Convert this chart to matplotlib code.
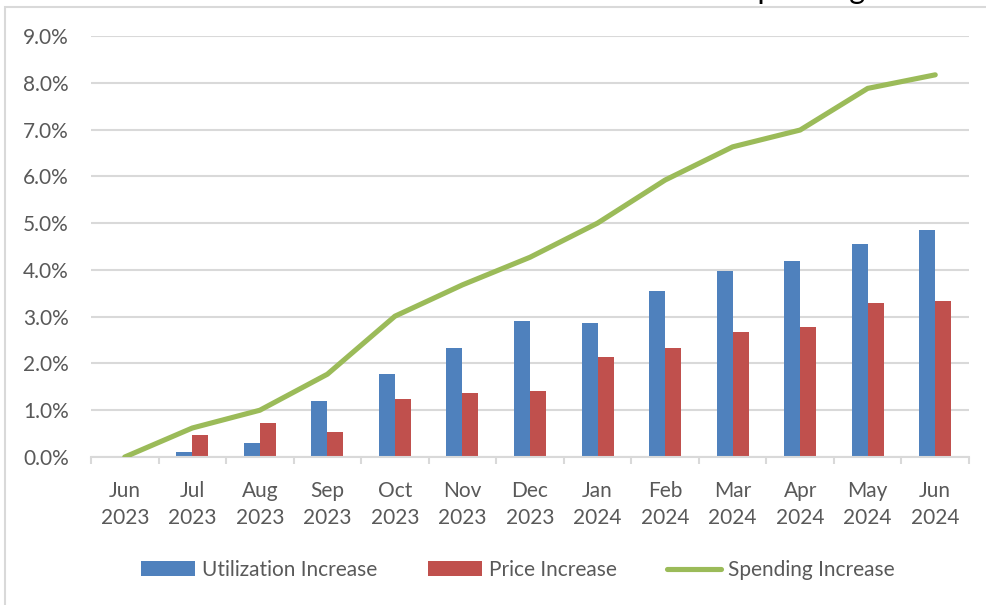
import matplotlib
matplotlib.use("Agg")
import matplotlib.pyplot as plt
import numpy as np
from matplotlib.patches import Rectangle
from matplotlib.ticker import FixedLocator, PercentFormatter

plt.rcParams['font.family'] = ['Lato', 'DejaVu Sans']

categories = ["Jun\n2023", "Jul\n2023", "Aug\n2023", "Sep\n2023", "Oct\n2023", "Nov\n2023",
              "Dec\n2023", "Jan\n2024", "Feb\n2024", "Mar\n2024", "Apr\n2024", "May\n2024", "Jun\n2024"]
utilization = [0.0, 0.11, 0.29, 1.19, 1.78, 2.34, 2.90, 2.86, 3.54, 3.97, 4.19, 4.56, 4.86]
price = [0.0, 0.46, 0.72, 0.54, 1.23, 1.36, 1.41, 2.13, 2.34, 2.68, 2.77, 3.29, 3.33]
spending = [0.0, 0.62, 1.00, 1.77, 3.01, 3.68, 4.27, 5.00, 5.92, 6.63, 6.99, 7.88, 8.17]
yticks = [0, 1, 2, 3, 4, 5, 6, 7, 8, 9]

BLUE = "#4F81BD"
RED = "#C0504D"
GREEN = "#9BBB59"
GRID = "#D9D9D9"
TXT = "#595959"

fig = plt.figure(figsize=(9.87, 6.05), dpi=100)
ax = fig.add_axes([91/987, 1-457/605, (969-91)/987, (457-36)/605])

x = np.arange(len(categories))
w = 0.237
h_util = ax.bar(x - w/2, utilization, width=w, color=BLUE, label="Utilization Increase", zorder=2)
h_price = ax.bar(x + w/2, price, width=w, color=RED, label="Price Increase", zorder=2)
h_spend, = ax.plot(x, spending, color=GREEN, lw=3.7, solid_capstyle='round', solid_joinstyle='round',
                   label="Spending Increase", zorder=3)

ax.set_xlim(-0.5, len(categories) - 0.5)
ax.set_ylim(0, 9)
ax.set_yticks(yticks)
ax.yaxis.set_major_formatter(PercentFormatter(decimals=1))
ax.set_xticks(x)
ax.set_xticklabels(categories, linespacing=1.45)
ax.xaxis.set_minor_locator(FixedLocator(np.arange(-0.5, len(categories), 1.0)))

ax.grid(axis='y', color=GRID, lw=1.5, zorder=0)
ax.set_axisbelow(True)
for s in ['left', 'top', 'right']:
    ax.spines[s].set_visible(False)
ax.spines['bottom'].set_color(GRID)
ax.spines['bottom'].set_linewidth(1.5)

ax.tick_params(axis='x', which='major', length=0, pad=17, labelsize=15, labelcolor=TXT)
ax.tick_params(axis='x', which='minor', length=5, width=1.5, color=GRID)
ax.tick_params(axis='y', length=0, pad=16, labelsize=15, labelcolor=TXT)

leg = fig.legend([h_util, h_price, h_spend],
                 ["Utilization Increase", "Price Increase", "Spending Increase"],
                 loc='center', bbox_to_anchor=(518/987, 1-570/605), ncol=3, frameon=False,
                 fontsize=15, handlelength=2.6, handleheight=0.7, handletextpad=0.35,
                 columnspacing=2.4)
for t in leg.get_texts():
    t.set_color(TXT)

# outer chart frame (partially cropped)
fig.patches.append(Rectangle((5/987, -0.1), 1.2, 1 - 6.5/605 + 0.1, transform=fig.transFigure,
                             fill=False, edgecolor=GRID, lw=1.5))

# cropped title fragment
fig.text(741/987, 1 + 1/605, "Spending", fontsize=22, color='black', va='baseline', ha='left')

fig.savefig("out.png", dpi=100)
